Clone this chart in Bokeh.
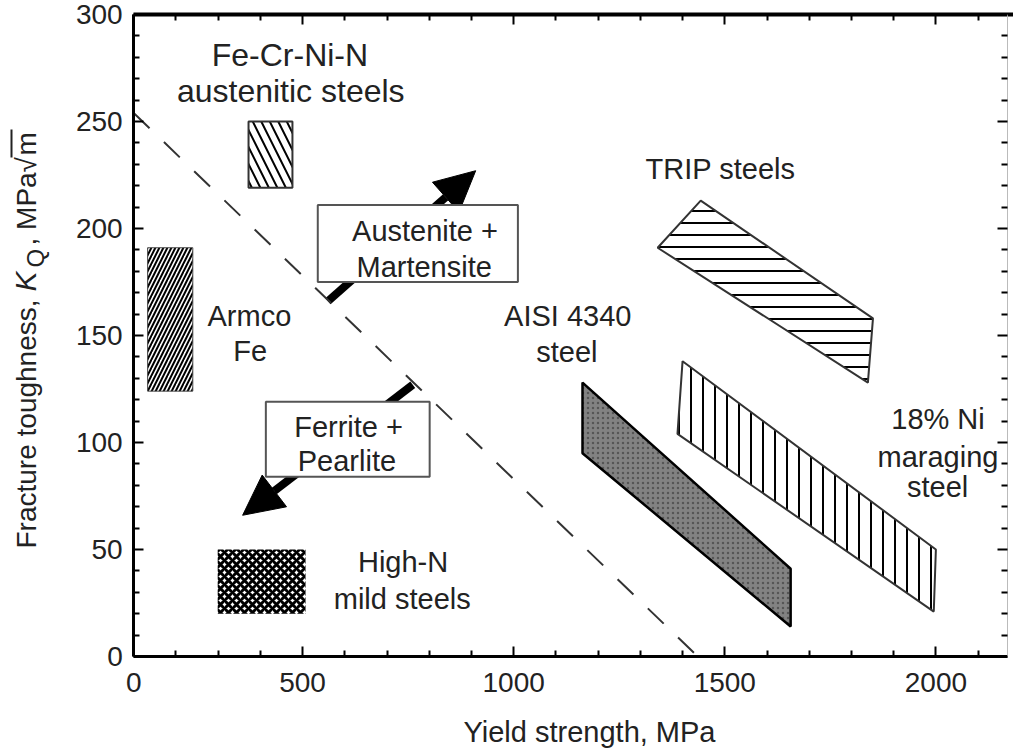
import numpy as np
from bokeh.plotting import figure
from bokeh.models import (LinearAxis, FixedTicker, Range1d, Arrow,
                          NormalHead, ColumnDataSource)
from bokeh.core.properties import value
from bokeh.embed import file_html
from bokeh.resources import INLINE

FONT = "Liberation Sans"
INK = "#222222"

# ---------------- axes ----------------
# the drawn x axis begins at 100 MPa on the tick spacing, but is labelled "0"
x_axis_min, x_axis_max = 100, 2170
y_axis_min, y_axis_max = 0, 300
x_major = [100, 500, 1000, 1500, 2000]
x_major_labels = ["0", "500", "1000", "1500", "2000"]
x_minor = [200, 300, 400, 600, 700, 800, 900, 1100, 1200, 1300, 1400,
           1600, 1700, 1800, 1900, 2100]
y_major = [0, 50, 100, 150, 200, 250, 300]
y_minor = [10, 20, 30, 40, 60, 70, 80, 90, 110, 120, 130, 140, 160, 170, 180, 190,
           210, 220, 230, 240, 260, 270, 280, 290]

# ---------------- regions (yield strength MPa, toughness MPa*sqrt(m)) ----------------
fecrnin_x = [372, 476]
fecrnin_y = [219, 250]
armco_x = [133, 240]
armco_y = [124, 191]
highn_x = [299, 507]
highn_y = [20, 50]
trip_x = [1341, 1443, 1851, 1839]
trip_y = [191, 213, 158, 128]
aisi_x = [1163, 1656, 1656, 1163]
aisi_y = [128, 41, 14, 95]
marag_x = [1400, 2000, 1995, 1388]
marag_y = [138, 50, 21, 104]

# dashed boundary line
bound_x = [100, 1436]
bound_y = [254, 0]

# trend arrows (tail -> head)
aust_arrow_x = [560, 910]
aust_arrow_y = [166, 227]
ferr_arrow_x = [761, 358]
ferr_arrow_y = [127, 66]

# boxed captions
aust_box_x = [536, 1010]
aust_box_y = [175, 211]
ferr_box_x = [413, 801]
ferr_box_y = [84, 119]

# ---------------- text labels (baseline positions) ----------------
big_text = ["Fe-Cr-Ni-N", "austenitic steels"]
big_x = [470, 472]
big_y = [274.8, 258.0]
label_text = ["Armco", "Fe", "TRIP steels",
              "AISI 4340", "steel", "18% Ni", "maraging", "steel",
              "High-N", "mild steels", "Austenite +", "Martensite",
              "Ferrite +", "Pearlite"]
label_x = [374, 376, 1490, 1128, 1126, 2005, 2005, 2004,
           738, 736, 790, 788, 609, 605]
label_y = [153.7, 137.4, 222.4, 153.7, 136.9, 105.6, 87.9, 73.8,
           38.8, 21.5, 193.5, 176.6, 101.9, 86.0]

x_title = "Yield strength, MPa"
# y title pieces: text, baseline x px, start y px (page), size px, style
y_title_pieces = [
    ("Fracture toughness,", 37, 548, 28, "normal"),
    ("K", 37, 291, 30, "italic"),
    ("Q", 45, 267, 24, "normal"),
    (", MPa", 37, 245, 28, "normal"),
    ("\u221a", 37, 172, 28, "normal"),
    ("m", 37, 155, 28, "normal"),
]
# overline of the square root (page px: x, y from, y to)
root_bar = (11, 157, 129)

# ---------------- page geometry ----------------
W, H = 1013, 749
X100_PX, XS = 133.2, 0.4222     # px of x=100 MPa, px per MPa
Y0_PX, YS = 656.0, 2.14         # px of y=0, px per unit
BASE_SHIFT = 0.41               # renderer draws alphabetic baselines ~0.41 em low


def dx(px):
    return x_axis_min + (px - X100_PX) / XS


def dy(py):
    return y_axis_min + (Y0_PX - py) / YS


p = figure(width=W, height=H,
           x_range=Range1d(dx(0), dx(W)), y_range=Range1d(dy(H), dy(0)),
           output_backend="svg", toolbar_location=None,
           x_axis_location=None, y_axis_location=None,
           min_border_left=0, min_border_right=0,
           min_border_top=0, min_border_bottom=0)
p.grid.visible = False
p.outline_line_color = None
p.background_fill_color = "white"
p.border_fill_color = "white"

xt = FixedTicker(ticks=x_major, minor_ticks=x_minor)
yt = FixedTicker(ticks=y_major, minor_ticks=y_minor)


def style_axis(ax, labels=True, line_color="black", line_width=3):
    ax.axis_line_color = line_color
    ax.axis_line_width = line_width
    ax.major_tick_in = 10
    ax.major_tick_out = 0
    ax.minor_tick_in = 6
    ax.minor_tick_out = 0
    ax.major_tick_line_width = 2
    ax.minor_tick_line_width = 2
    ax.major_tick_line_color = "black"
    ax.minor_tick_line_color = "black"
    ax.axis_label = None
    if labels:
        ax.major_label_text_font = FONT
        ax.major_label_text_font_size = "28px"
        ax.major_label_text_color = INK
    else:
        ax.major_label_text_color = None
        ax.major_label_text_font_size = "1px"
        ax.major_label_standoff = 0


xa = LinearAxis(ticker=xt, fixed_location=y_axis_min, bounds=(x_axis_min, x_axis_max))
style_axis(xa)
xa.major_label_overrides = {k: v for k, v in zip(x_major, x_major_labels)}
xa.major_label_standoff = 16
p.add_layout(xa, "below")

ya = LinearAxis(ticker=yt, fixed_location=x_axis_min, bounds=(y_axis_min, y_axis_max))
style_axis(ya)
ya.major_label_standoff = 11
p.add_layout(ya, "left")

top = LinearAxis(ticker=xt, fixed_location=y_axis_max, bounds=(x_axis_min, dx(W)))
style_axis(top, labels=False, line_width=4)
p.add_layout(top, "above")

right = LinearAxis(ticker=yt, fixed_location=x_axis_max, bounds=(y_axis_min, y_axis_max))
style_axis(right, labels=False, line_color="#bbbbbb", line_width=1)
p.add_layout(right, "right")

# dashed boundary
p.line(bound_x, bound_y, line_dash="22 20", line_width=2, line_color="#333333")

# arrows (underneath the caption boxes)
for xs, ys in [(aust_arrow_x, aust_arrow_y), (ferr_arrow_x, ferr_arrow_y)]:
    p.add_layout(Arrow(end=NormalHead(size=40, fill_color="black", line_color="black",
                                      line_width=1),
                       x_start=xs[0], y_start=ys[0], x_end=xs[1], y_end=ys[1],
                       line_width=8, line_color="black", level="underlay"))

# hatched rectangles
p.quad(left=[fecrnin_x[0]], right=[fecrnin_x[1]], bottom=[fecrnin_y[0]], top=[fecrnin_y[1]],
       fill_color="white", line_color="#333333", line_width=2,
       hatch_pattern="\\", hatch_scale=17, hatch_weight=2, hatch_color="black")
p.quad(left=[armco_x[0]], right=[armco_x[1]], bottom=[armco_y[0]], top=[armco_y[1]],
       fill_color="white", line_color="#444444", line_width=1,
       hatch_pattern="/", hatch_scale=8, hatch_weight=2, hatch_color="black")
p.quad(left=[highn_x[0]], right=[highn_x[1]], bottom=[highn_y[0]], top=[highn_y[1]],
       fill_color="white", line_color=None,
       hatch_pattern="x", hatch_scale=8, hatch_weight=3, hatch_color="black")

# polygons
p.patch(trip_x, trip_y, fill_color="white", line_color="#333333", line_width=2,
        hatch_pattern="-", hatch_scale=12, hatch_weight=2, hatch_color="black")
p.patch(marag_x, marag_y, fill_color="white", line_color="#333333", line_width=2,
        hatch_pattern="|", hatch_scale=12, hatch_weight=2, hatch_color="black")
p.patch(aisi_x, aisi_y, fill_color="#828282", line_color="black", line_width=2.5,
        hatch_pattern="dot", hatch_scale=5, hatch_weight=1, hatch_color="#555555")

# caption boxes
for bx, by in [(aust_box_x, aust_box_y), (ferr_box_x, ferr_box_y)]:
    p.quad(left=[bx[0]], right=[bx[1]], bottom=[by[0]], top=[by[1]],
           fill_color="white", line_color="#555555", line_width=2)

# in-plot labels
src = ColumnDataSource(dict(x=label_x, y=label_y, text=label_text))
p.text(x="x", y="y", text="text", source=src, y_offset=-BASE_SHIFT * 29,
       text_font=value(FONT), text_font_size=value("29px"),
       text_align="center", text_baseline="alphabetic", text_color=INK)
src2 = ColumnDataSource(dict(x=big_x, y=big_y, text=big_text))
p.text(x="x", y="y", text="text", source=src2, y_offset=-BASE_SHIFT * 32,
       text_font=value(FONT), text_font_size=value("32px"),
       text_align="center", text_baseline="alphabetic", text_color=INK)

# axis titles (inside the enlarged frame, left of / below the axes)
p.text(x=[dx(589)], y=[dy(743)], text=[x_title], y_offset=-BASE_SHIFT * 29,
       text_align="center", text_baseline="alphabetic",
       text_font=value(FONT), text_font_size=value("29px"), text_color=INK)
for t, bxp, byp, fs, st in y_title_pieces:
    p.text(x=[dx(bxp)], y=[dy(byp)], text=[t], angle=np.pi / 2,
           x_offset=-BASE_SHIFT * fs,
           text_align="left", text_baseline="alphabetic",
           text_font=value(FONT), text_font_size=value("%dpx" % fs),
           text_font_style=st, text_color=INK)
p.segment(x0=[dx(root_bar[0])], y0=[dy(root_bar[1])],
          x1=[dx(root_bar[0])], y1=[dy(root_bar[2])],
          line_width=2, line_color=INK)

open("out.html", "w").write(file_html(p, INLINE))
